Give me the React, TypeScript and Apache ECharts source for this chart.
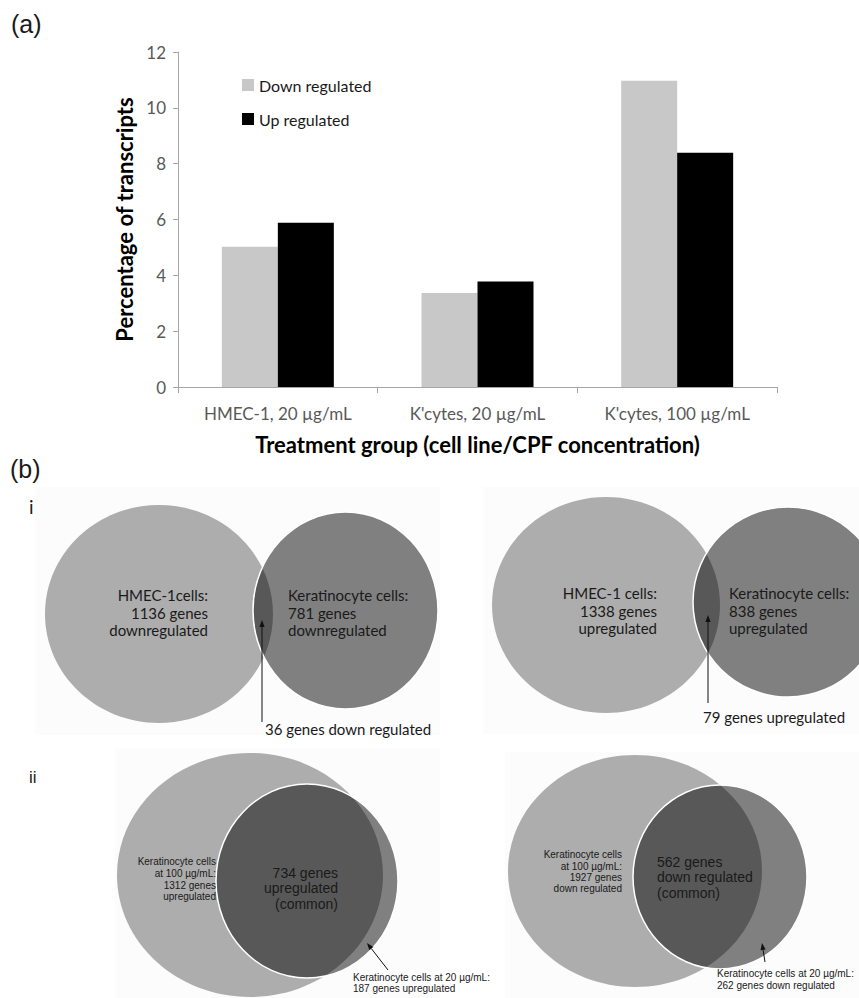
import React, { useEffect, useRef } from "react";
import * as echarts from "echarts";

// ---------- data ----------
const categories = ["HMEC-1, 20 µg/mL", "K'cytes, 20 µg/mL", "K'cytes, 100 µg/mL"];
const downRegulated = [5.02, 3.37, 10.97];
const upRegulated = [5.88, 3.78, 8.39];
const seriesNames = ["Down regulated", "Up regulated"];
const yAxisTitle = "Percentage of transcripts";
const xAxisTitle = "Treatment group (cell line/CPF concentration)";

const vennIDownLeft = ["HMEC-1cells:", "1136 genes", "downregulated"];
const vennIDownRight = ["Keratinocyte cells:", "781 genes", "downregulated"];
const vennIDownCommon = "36 genes down regulated";
const vennIUpLeft = ["HMEC-1 cells:", "1338 genes", "upregulated"];
const vennIUpRight = ["Keratinocyte cells:", "838 genes", "upregulated"];
const vennIUpCommon = "79 genes upregulated";
const vennIIUpOuter = ["Keratinocyte cells", "at 100 µg/mL:", "1312 genes", "upregulated"];
const vennIIUpCommon = ["734 genes", "upregulated", "(common)"];
const vennIIUpInner = ["Keratinocyte cells at 20 µg/mL:", "187 genes upregulated"];
const vennIIDownOuter = ["Keratinocyte cells", "at 100 µg/mL:", "1927 genes", "down regulated"];
const vennIIDownCommon = ["562 genes", "down regulated", "(common)"];
const vennIIDownInner = ["Keratinocyte cells at 20 µg/mL:", "262 genes down regulated"];

const LIGHT = "#adadad";
const DARK = "rgba(0,0,0,0.49)";
const TXT = "#1a1a1a";
const CAL = "Lato, 'Open Sans', sans-serif";
const ARIAL = "'Liberation Sans', Arial, sans-serif";

function txt(text: string, x: number, y: number, size: number, family: string, align = "left", weight = "normal", fill = TXT) {
  return {
    type: "text",
    silent: true,
    z: 20,
    style: {
      text,
      x,
      y,
      fill,
      font: `${weight} ${size}px ${family}`,
      textAlign: align,
      textVerticalAlign: "middle",
      align,
      verticalAlign: "middle",
    },
  };
}

function lines(arr: string[], x: number, ys: number[], size: number, family: string, align = "left") {
  return arr.map((t, i) => txt(t, x, ys[i], size, family, align));
}

function ellipse(cx: number, cy: number, rx: number, ry: number, fill: string, stroke?: string) {
  return {
    type: "ellipse",
    silent: true,
    z: 10,
    shape: { cx, cy, rx, ry },
    style: { fill, stroke: stroke || null, lineWidth: stroke ? 1.5 : 0 },
  };
}

function arrow(x1: number, y1: number, x2: number, y2: number) {
  const ang = Math.atan2(y2 - y1, x2 - x1);
  const L = 7;
  const W = 2.6;
  const bx = x2 - L * Math.cos(ang);
  const by = y2 - L * Math.sin(ang);
  const px = -Math.sin(ang) * W;
  const py = Math.cos(ang) * W;
  return [
    {
      type: "line",
      silent: true,
      z: 15,
      shape: { x1, y1, x2: bx, y2: by },
      style: { stroke: "#111", lineWidth: 1 },
    },
    {
      type: "polygon",
      silent: true,
      z: 15,
      shape: { points: [[x2, y2], [bx + px, by + py], [bx - px, by - py]] },
      style: { fill: "#111" },
    },
  ];
}

function panel(x: number, y: number, w: number, h: number) {
  return { type: "rect", silent: true, z: 1, shape: { x, y, width: w, height: h }, style: { fill: "#fcfcfc" } };
}

export default function App() {
  const ref = useRef<HTMLDivElement>(null);
  useEffect(() => {
    if (!ref.current) return;
    const chart = echarts.init(ref.current, null, { renderer: "svg" });
    const graphic: any[] = [
      txt("(a)", 11, 24, 25, ARIAL),
      txt("(b)", 10, 469, 25, ARIAL),
      panel(35, 487, 405, 248),
      panel(483, 487, 376, 247),
      panel(115, 748, 325, 250),
      panel(505, 752, 354, 246),
      txt("i", 29, 506, 19, CAL),
      txt("ii", 29, 777, 17, ARIAL),
      // Venn i - down
      ellipse(159, 614, 114, 109, LIGHT),
      ellipse(345.5, 610.5, 92.5, 98.5, DARK, "#ffffff"),
      ...lines(vennIDownLeft, 208, [595, 613, 630], 15, CAL, "right"),
      ...lines(vennIDownRight, 288, [595, 613, 630], 15, CAL, "left"),
      ...arrow(262, 722, 262, 620),
      txt(vennIDownCommon, 265, 729, 15, CAL),
      // Venn i - up
      ellipse(606, 605, 114, 108, LIGHT),
      ellipse(788, 602, 95, 95, DARK, "#ffffff"),
      ...lines(vennIUpLeft, 657, [593, 611, 628], 15, CAL, "right"),
      ...lines(vennIUpRight, 729, [593, 611, 628], 15, CAL, "left"),
      ...arrow(708, 703, 708, 615),
      txt(vennIUpCommon, 703, 717, 15, CAL),
      // Venn ii - up
      ellipse(250, 875, 133, 122, LIGHT),
      ellipse(307, 881, 91, 97, DARK, "#ffffff"),
      ...lines(vennIIUpOuter, 216, [861, 873, 885, 896], 10, ARIAL, "right"),
      ...lines(vennIIUpCommon, 338, [873, 888, 904], 14, ARIAL, "right"),
      ...arrow(388, 970, 367, 943),
      ...lines(vennIIUpInner, 353, [977, 988], 10, ARIAL, "left"),
      // Venn ii - down
      ellipse(635, 871, 127, 116, LIGHT),
      ellipse(720, 877, 87, 92, DARK, "#ffffff"),
      ...lines(vennIIDownOuter, 622, [854, 866, 877, 888], 10, ARIAL, "right"),
      ...lines(vennIIDownCommon, 657, [862, 877, 893], 14, ARIAL, "left"),
      ...arrow(765, 962, 762, 943),
      ...lines(vennIIDownInner, 717, [973, 985], 10, ARIAL, "left"),
    ];

    chart.setOption({
      animation: false,
      textStyle: { fontFamily: CAL },
      legend: {
        data: seriesNames,
        orient: "vertical",
        left: 237,
        top: 72,
        itemWidth: 12,
        itemHeight: 12,
        itemGap: 18,
        icon: "rect",
        textStyle: { fontSize: 16, color: "#1a1a1a", fontFamily: CAL },
        selectedMode: false,
      },
      grid: { left: 178, right: 82, top: 52, bottom: 611, containLabel: false },
      xAxis: {
        type: "category",
        data: categories,
        name: xAxisTitle,
        nameLocation: "middle",
        nameGap: 46,
        nameTextStyle: { fontSize: 22, fontWeight: "bold", color: "#000", fontFamily: CAL },
        axisLine: { lineStyle: { color: "#a6a6a6", width: 1 } },
        axisTick: { show: true, length: 6, lineStyle: { color: "#a6a6a6" } },
        axisLabel: { fontSize: 17, color: "#595959", margin: 18 },
      },
      yAxis: {
        type: "value",
        min: 0,
        max: 12,
        interval: 2,
        name: yAxisTitle,
        nameLocation: "middle",
        nameRotate: 90,
        nameGap: 39,
        nameTextStyle: { fontSize: 22, fontWeight: "bold", color: "#000", fontFamily: CAL },
        axisLine: { show: true, lineStyle: { color: "#a6a6a6", width: 1 } },
        axisTick: { show: true, length: 5, lineStyle: { color: "#a6a6a6" } },
        axisLabel: { fontSize: 17, color: "#595959", margin: 12 },
        splitLine: { show: false },
      },
      series: [
        {
          name: seriesNames[0],
          type: "bar",
          data: downRegulated,
          barWidth: 56,
          barGap: "0%",
          itemStyle: { color: "#c8c8c8" },
        },
        {
          name: seriesNames[1],
          type: "bar",
          data: upRegulated,
          barWidth: 56,
          barGap: "0%",
          itemStyle: { color: "#000000" },
        },
      ],
      graphic,
    });
    return () => chart.dispose();
  }, []);
  return (
    <div
      ref={ref}
      style={{ position: "absolute", left: 0, top: 0, width: 859, height: 998, background: "#fff" }}
    />
  );
}
